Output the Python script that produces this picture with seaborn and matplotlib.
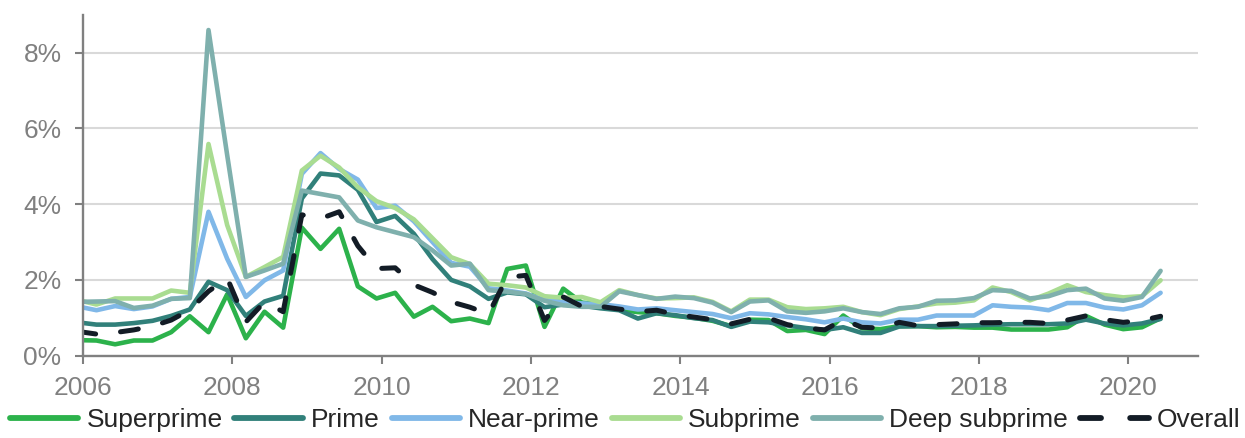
import numpy as np
import pandas as pd
import matplotlib
matplotlib.use("Agg")
import matplotlib.pyplot as plt
import seaborn as sns

# quarterly series, 2006Q1 - 2020Q3, values in %
quarters = pd.period_range("2006Q1", "2020Q3", freq="Q")

superprime = [0.41, 0.40, 0.30, 0.40, 0.40, 0.62, 1.04, 0.62, 1.62, 0.46,
              1.16, 0.74, 3.38, 2.82, 3.35, 1.83, 1.51, 1.66, 1.03, 1.29,
              0.91, 0.98, 0.86, 2.29, 2.38, 0.76, 1.77, 1.40, 1.36, 1.21,
              1.15, 1.12, 1.05, 1.00, 0.92, 0.78, 0.95, 0.94, 0.65, 0.68,
              0.57, 1.06, 0.72, 0.70, 0.78, 0.78, 0.75, 0.76, 0.74, 0.74,
              0.69, 0.69, 0.69, 0.75, 1.05, 0.82, 0.70, 0.75, 0.99]
prime = [0.88, 0.82, 0.82, 0.86, 0.92, 1.05, 1.22, 1.95, 1.73, 1.05,
         1.43, 1.58, 4.15, 4.81, 4.76, 4.38, 3.53, 3.69, 3.22, 2.55,
         2.00, 1.83, 1.50, 1.67, 1.62, 1.28, 1.35, 1.32, 1.25, 1.20,
         0.98, 1.12, 1.07, 0.99, 0.94, 0.76, 0.90, 0.88, 0.80, 0.73,
         0.68, 0.75, 0.60, 0.60, 0.77, 0.78, 0.78, 0.79, 0.80, 0.82,
         0.83, 0.83, 0.83, 0.85, 0.95, 0.85, 0.80, 0.85, 0.97]
near_prime = [1.30, 1.20, 1.31, 1.23, 1.30, 1.50, 1.55, 3.80, 2.56, 1.55,
              1.99, 2.25, 4.80, 5.35, 4.93, 4.65, 3.90, 3.96, 3.55, 3.00,
              2.45, 2.35, 1.78, 1.72, 1.64, 1.47, 1.42, 1.38, 1.36, 1.30,
              1.22, 1.25, 1.20, 1.15, 1.10, 0.99, 1.12, 1.09, 1.02, 0.96,
              0.88, 0.98, 0.88, 0.85, 0.95, 0.95, 1.06, 1.06, 1.06, 1.33,
              1.29, 1.27, 1.20, 1.39, 1.39, 1.27, 1.22, 1.33, 1.66]
subprime = [1.47, 1.35, 1.51, 1.51, 1.51, 1.72, 1.66, 5.59, 3.45, 2.08,
            2.34, 2.61, 4.89, 5.28, 4.97, 4.45, 4.08, 3.90, 3.60, 3.10,
            2.60, 2.42, 1.90, 1.86, 1.80, 1.57, 1.53, 1.55, 1.41, 1.73,
            1.60, 1.51, 1.52, 1.54, 1.42, 1.17, 1.48, 1.48, 1.28, 1.23,
            1.25, 1.29, 1.15, 1.07, 1.23, 1.30, 1.38, 1.40, 1.46, 1.80,
            1.68, 1.46, 1.64, 1.86, 1.68, 1.60, 1.54, 1.57, 1.99]
deep_subprime = [1.42, 1.43, 1.44, 1.26, 1.32, 1.50, 1.52, 8.60, 5.30, 2.08,
                 2.25, 2.43, 4.36, 4.27, 4.18, 3.57, 3.39, 3.26, 3.13, 2.78,
                 2.38, 2.43, 1.73, 1.69, 1.63, 1.45, 1.33, 1.29, 1.29, 1.70,
                 1.60, 1.50, 1.56, 1.52, 1.40, 1.15, 1.43, 1.46, 1.17, 1.13,
                 1.17, 1.25, 1.15, 1.10, 1.25, 1.29, 1.45, 1.46, 1.52, 1.73,
                 1.71, 1.51, 1.57, 1.73, 1.77, 1.51, 1.45, 1.55, 2.24]
overall = [0.64, 0.57, 0.61, 0.68, 0.78, 0.94, 1.21, 1.70, 2.05, 0.89,
           1.42, 1.16, 3.72, 3.62, 3.80, 2.90, 2.30, 2.32, 1.87, 1.67,
           1.42, 1.28, 1.10, 2.07, 2.12, 0.93, 1.55, 1.30, 1.30, 1.23,
           1.16, 1.20, 1.09, 1.02, 0.95, 0.84, 0.96, 0.99, 0.82, 0.73,
           0.68, 0.95, 0.75, 0.73, 0.88, 0.79, 0.82, 0.84, 0.87, 0.87,
           0.88, 0.88, 0.85, 0.94, 1.05, 0.95, 0.88, 0.93, 1.04]

series = {
    "Superprime": superprime,
    "Prime": prime,
    "Near-prime": near_prime,
    "Subprime": subprime,
    "Deep subprime": deep_subprime,
    "Overall": overall,
}
colors = {
    "Superprime": "#2cb24b",
    "Prime": "#31807a",
    "Near-prime": "#80b8e8",
    "Subprime": "#a9dc91",
    "Deep subprime": "#7fb0ad",
    "Overall": "#131c26",
}

df = pd.DataFrame(series)
df["q"] = np.arange(len(quarters))

sns.set_style("white")
plt.rcParams["font.family"] = ["Liberation Sans", "DejaVu Sans"]

fig = plt.figure(figsize=(12.45, 4.38), dpi=100)
ax = fig.add_axes([0.0667, 0.188, 0.8955, 0.778])

for name in series:
    if name == "Overall":
        sns.lineplot(data=df, x="q", y=name, ax=ax, color=colors[name], lw=3.6,
                     linestyle=(0, (3.6, 5.0)), dash_capstyle="round", label=name)
    else:
        sns.lineplot(data=df, x="q", y=name, ax=ax, color=colors[name], lw=3.3,
                     label=name)

grey = "#808080"
ax.set_ylim(0, 9)
ax.set_yticks([0, 2, 4, 6, 8])
ax.set_yticklabels([f"{t}%" for t in [0, 2, 4, 6, 8]])
ax.yaxis.grid(True, color="#d9d9d9", lw=1.5)
ax.set_axisbelow(True)

# year ticks (every 8 quarters)
tick_idx = np.arange(0, len(quarters), 8)
ax.set_xticks(tick_idx + 0.28)
ax.set_xticklabels([str(quarters[i].year) for i in tick_idx])
ax.set_xlim(0.28, 60)

ax.set_xlabel("")
ax.set_ylabel("")
for s in ["top", "right"]:
    ax.spines[s].set_visible(False)
for s in ["left", "bottom"]:
    ax.spines[s].set_color(grey)
    ax.spines[s].set_linewidth(1.7)
ax.tick_params(axis="both", colors=grey, labelsize=19, length=5.5, width=1.5,
               direction="out", bottom=True, left=True)
ax.tick_params(axis="y", pad=10)
ax.tick_params(axis="x", pad=9)

handles, labels = ax.get_legend_handles_labels()
ax.get_legend().remove()
leg = fig.legend(handles, labels, loc="center", bbox_to_anchor=(0.502, 0.041),
                 ncol=6, frameon=False, fontsize=19, handlelength=2.6,
                 handletextpad=0.3, columnspacing=0.45)
for h in leg.get_lines():
    h.set_linewidth(4.2)

fig.savefig("out.png", dpi=100)
